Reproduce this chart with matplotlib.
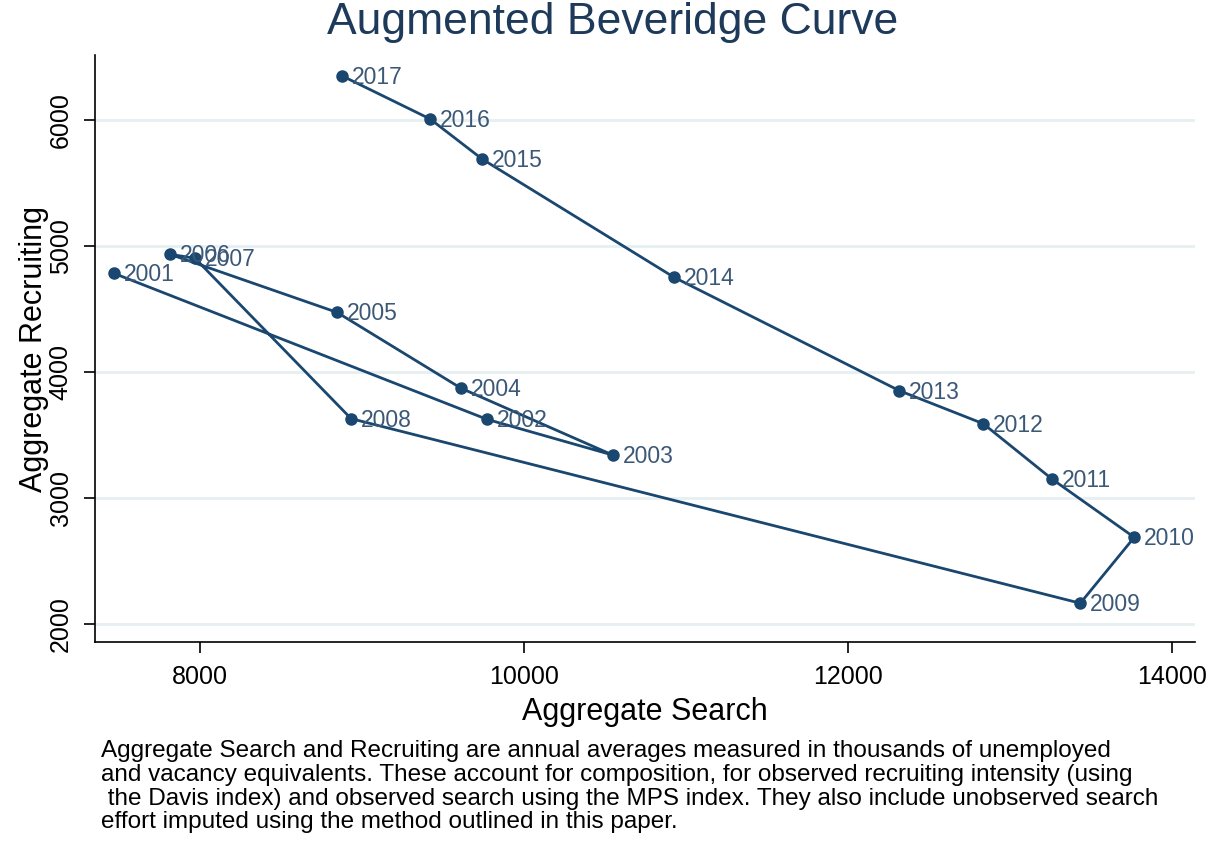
import matplotlib.pyplot as plt

plt.rcParams['font.family'] = ['Liberation Sans', 'DejaVu Sans']

# annual data, thousands
years = [2001, 2002, 2003, 2004, 2005, 2006, 2007, 2008, 2009,
         2010, 2011, 2012, 2013, 2014, 2015, 2016, 2017]
search = [7469, 9772, 10549, 9611, 8846, 7815, 7969, 8932, 13432,
          13765, 13259, 12833, 12315, 10926, 9741, 9420, 8877]
recruiting = [4785, 3626, 3342, 3873, 4475, 4936, 4905, 3632, 2167,
              2690, 3151, 3592, 3854, 4753, 5692, 6010, 6352]

xticks = [8000, 10000, 12000, 14000]
yticks = [2000, 3000, 4000, 5000, 6000]

navy = '#1a476f'
label_col = '#3b5877'

fig = plt.figure(figsize=(12.26, 8.44), dpi=100)
ax = fig.add_axes([0.0775, 0.239, 0.8975, 0.696])

ax.plot(search, recruiting, color=navy, linewidth=2, marker='o',
        markersize=8, zorder=3)
# labels sit to the right of each point (2006/2007 overlap as in the source)
for yr, x, y in zip(years, search, recruiting):
    ax.annotate(str(yr), (x, y), xytext=(7, -1), textcoords='offset points',
                fontsize=16.5, color=label_col, va='center', ha='left')

ax.set_xlim(7352, 14142)
ax.set_ylim(1857, 6519)
ax.set_xticks(xticks)
ax.set_yticks(yticks)
ax.tick_params(axis='both', labelsize=18, length=8, width=1.2, pad=8)
for lab in ax.get_yticklabels():
    lab.set_rotation(90)
    lab.set_va('center')

ax.grid(axis='y', color='#e6eff1', linewidth=2)
ax.set_axisbelow(True)
ax.spines['top'].set_visible(False)
ax.spines['right'].set_visible(False)
ax.spines['left'].set_linewidth(1.2)
ax.spines['bottom'].set_linewidth(1.2)

ax.set_xlabel('Aggregate Search', fontsize=22, labelpad=6)
ax.set_ylabel('Aggregate Recruiting', fontsize=22, labelpad=0)
fig.suptitle('Augmented Beveridge Curve', fontsize=32, color='#1e3a5a',
             y=0.998, va='top')

caption = ('Aggregate Search and Recruiting are annual averages measured in thousands of unemployed\n'
           'and vacancy equivalents. These account for composition, for observed recruiting intensity (using\n'
           ' the Davis index) and observed search using the MPS index. They also include unobserved search\n'
           'effort imputed using the method outlined in this paper.')
fig.text(0.082, 0.123, caption, fontsize=17.5, va='top', ha='left',
         linespacing=1.1)

fig.savefig('out.png', dpi=100, facecolor='white')
